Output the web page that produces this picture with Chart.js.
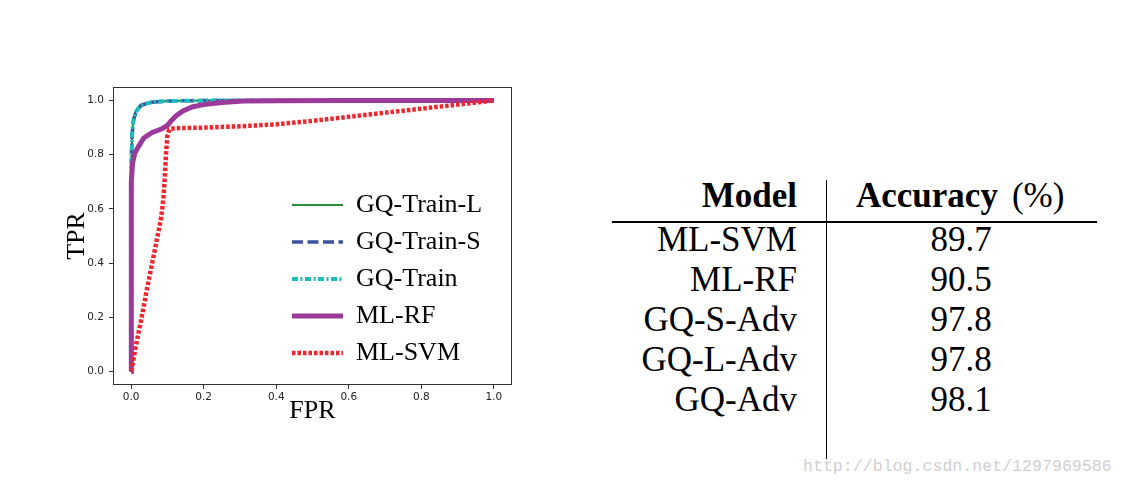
<!DOCTYPE html>
<html>
<head>
<meta charset="utf-8">
<script src="https://cdn.jsdelivr.net/npm/chart.js@4.4.0/dist/chart.umd.min.js"></script>
<style>
  html, body { margin: 0; padding: 0; background: #fff; }
  body { width: 1125px; height: 488px; position: relative; overflow: hidden; font-family: "Liberation Serif", "Times New Roman", serif; }
  #roc { position: absolute; left: 0; top: 0; }
  .cell { position: absolute; font-size: 35px; line-height: 40px; color: #000; white-space: nowrap; }
  .name { left: 560px; width: 237px; text-align: right; }
  .acc { left: 861px; width: 200px; text-align: center; }
  .rule { position: absolute; background: #000; }
  #mark { position: absolute; left: 803px; top: 457px; font: 16.6px "Liberation Mono", monospace; line-height: 20px; color: #d0d0d0; white-space: nowrap; }
</style>
</head>
<body>
<canvas id="roc" width="540" height="440"></canvas>
<div id="table"></div>
<div id="mark">http://blog.csdn.net/1297969586</div>
<script>
// ROC curves
const labels = ["GQ-Train-L", "GQ-Train-S", "GQ-Train", "ML-RF", "ML-SVM"];

const trainLFpr = [0, 0, 0.001, 0.003, 0.006, 0.012, 0.025, 0.05, 0.1, 0.2, 0.4, 0.6, 0.8, 1.0];
const trainLTpr = [0, 0.6, 0.8, 0.88, 0.93, 0.96, 0.982, 0.993, 0.998, 1.0, 1.0, 1.0, 1.0, 1.0];

const trainSFpr = [0, 0, 0.001, 0.003, 0.007, 0.014, 0.028, 0.055, 0.1, 0.2, 0.4, 0.6, 0.8, 1.0];
const trainSTpr = [0, 0.62, 0.8, 0.88, 0.93, 0.962, 0.983, 0.994, 0.998, 1.0, 1.0, 1.0, 1.0, 1.0];

const trainFpr = [0, 0, 0.001, 0.003, 0.006, 0.012, 0.022, 0.035, 0.06, 0.1, 0.2, 0.4, 0.6, 0.8, 1.0];
const trainTpr = [0, 0.6, 0.78, 0.88, 0.925, 0.955, 0.975, 0.986, 0.995, 0.998, 1.0, 1.0, 1.0, 1.0, 1.0];

const rfFpr = [0, 0, 0.001, 0.004, 0.01, 0.02, 0.035, 0.058, 0.085, 0.1, 0.11, 0.125, 0.143, 0.17, 0.2, 0.25, 0.31, 0.4, 0.6, 0.8, 1.0];
const rfTpr = [0, 0.5, 0.7, 0.77, 0.805, 0.83, 0.862, 0.882, 0.896, 0.908, 0.925, 0.945, 0.962, 0.977, 0.985, 0.993, 0.998, 0.999, 1.0, 1.0, 1.0];

const svmFpr = [0, 0.014, 0.029, 0.043, 0.058, 0.073, 0.083, 0.089, 0.092, 0.096, 0.1, 0.105, 0.12, 0.2, 0.3, 0.4, 0.5, 0.6, 0.7, 0.8, 0.9, 1.0];
const svmTpr = [0, 0.1, 0.2, 0.3, 0.4, 0.5, 0.57, 0.64, 0.7, 0.8, 0.87, 0.893, 0.898, 0.9, 0.905, 0.912, 0.925, 0.94, 0.955, 0.97, 0.985, 1.0];

const xTicks = [0, 0.2, 0.4, 0.6, 0.8, 1.0];
const yTicks = [0, 0.2, 0.4, 0.6, 0.8, 1.0];

// table on the right
const models = ["ML-SVM", "ML-RF", "GQ-S-Adv", "GQ-L-Adv", "GQ-Adv"];
const accuracy = ["89.7", "90.5", "97.8", "97.8", "98.1"];

const pts = (xs, ys) => xs.map((x, i) => ({ x: x, y: ys[i] }));

const table = document.getElementById("table");
table.innerHTML =
    '<div class="cell name" style="top:175.5px;font-weight:bold">Model</div>' +
    '<div class="cell acc" style="top:175.5px;left:856px;width:212px;text-align:left"><b>Accuracy</b><span style="margin-left:14px">(%)</span></div>' +
    '<div class="rule" style="left:612px;top:221px;width:485px;height:1.5px"></div>' +
    '<div class="rule" style="left:825.5px;top:180px;width:1.5px;height:279px"></div>' +
    models.map((m, i) =>
        `<div class="cell name" style="top:${219.5 + 40 * i}px">${m}</div>` +
        `<div class="cell acc" style="top:${219.5 + 40 * i}px">${accuracy[i]}</div>`
    ).join("");

// frame + legend inside the plot, like matplotlib
const boxAndLegend = {
    id: "boxAndLegend",
    afterDraw(chart) {
        const ctx = chart.ctx;
        const a = chart.chartArea;
        ctx.save();
        ctx.setLineDash([]);
        ctx.strokeStyle = "#333";
        ctx.lineWidth = 1;
        ctx.strokeRect(a.left + 0.5, a.top + 0.5, a.right - a.left - 1, a.bottom - a.top - 1);

        const n = chart.data.datasets.length;
        const x0 = a.right - 220;
        chart.data.datasets.forEach((ds, i) => {
            const y = a.bottom - 32 - 37 * (n - 1 - i);
            ctx.beginPath();
            ctx.setLineDash(ds.borderDash || []);
            ctx.lineCap = "butt";
            ctx.lineWidth = ds.borderWidth;
            ctx.strokeStyle = ds.borderColor;
            ctx.moveTo(x0, y);
            ctx.lineTo(x0 + 51, y);
            ctx.stroke();
            ctx.setLineDash([]);
            ctx.fillStyle = "#000";
            ctx.font = '26px "Liberation Serif"';
            ctx.textBaseline = "middle";
            ctx.textAlign = "left";
            ctx.fillText(ds.label, x0 + 64, y);
        });
        ctx.restore();
    }
};

const tickFont = { family: "DejaVu Sans", size: 10.5 };
const titleFont = { family: "Liberation Serif", size: 26 };

new Chart(document.getElementById("roc"), {
    type: "line",
    data: {
        datasets: [
            { label: labels[0], data: pts(trainLFpr, trainLTpr), borderColor: "#278c3c", borderWidth: 2 },
            { label: labels[1], data: pts(trainSFpr, trainSTpr), borderColor: "#3b52a3", borderWidth: 3.5, borderDash: [11, 4.5] },
            { label: labels[2], data: pts(trainFpr, trainTpr), borderColor: "#1ebdbd", borderWidth: 4, borderDash: [6, 2.5, 2, 2.5] },
            { label: labels[3], data: pts(rfFpr, rfTpr), borderColor: "#9b3a9b", borderWidth: 5 },
            { label: labels[4], data: pts(svmFpr, svmTpr), borderColor: "#f0262e", borderWidth: 4.5, borderDash: [3.5, 2] }
        ].map((ds, i) => Object.assign(ds, { order: 5 - i, pointRadius: 0, tension: 0, fill: false }))
    },
    options: {
        responsive: false,
        animation: false,
        layout: { padding: { top: 87, right: 28, left: 0, bottom: 0 } },
        plugins: { legend: { display: false }, tooltip: { enabled: false } },
        scales: {
            x: {
                type: "linear",
                min: -0.05,
                max: 1.05,
                afterBuildTicks: s => { s.ticks = xTicks.map(v => ({ value: v })); },
                afterFit: s => { s.height = 55; },
                border: { display: false },
                grid: { drawOnChartArea: false, drawTicks: true, tickLength: 4, tickColor: "#333" },
                ticks: { font: tickFont, color: "#222", padding: 2, maxRotation: 0, autoSkip: false, callback: v => v.toFixed(1) },
                title: { display: true, text: "FPR", font: titleFont, color: "#000", padding: { top: 0, bottom: 13.4 } }
            },
            y: {
                type: "linear",
                min: -0.05,
                max: 1.05,
                afterBuildTicks: s => { s.ticks = yTicks.map(v => ({ value: v })); },
                afterFit: s => { s.width = 113; },
                border: { display: false },
                grid: { drawOnChartArea: false, drawTicks: true, tickLength: 4, tickColor: "#333" },
                ticks: { font: tickFont, color: "#222", padding: 5, autoSkip: false, callback: v => v.toFixed(1) },
                title: { display: true, text: "TPR", font: titleFont, color: "#000", padding: { top: 61.4, bottom: 0 } }
            }
        }
    },
    plugins: [boxAndLegend]
});
</script>
</body>
</html>
